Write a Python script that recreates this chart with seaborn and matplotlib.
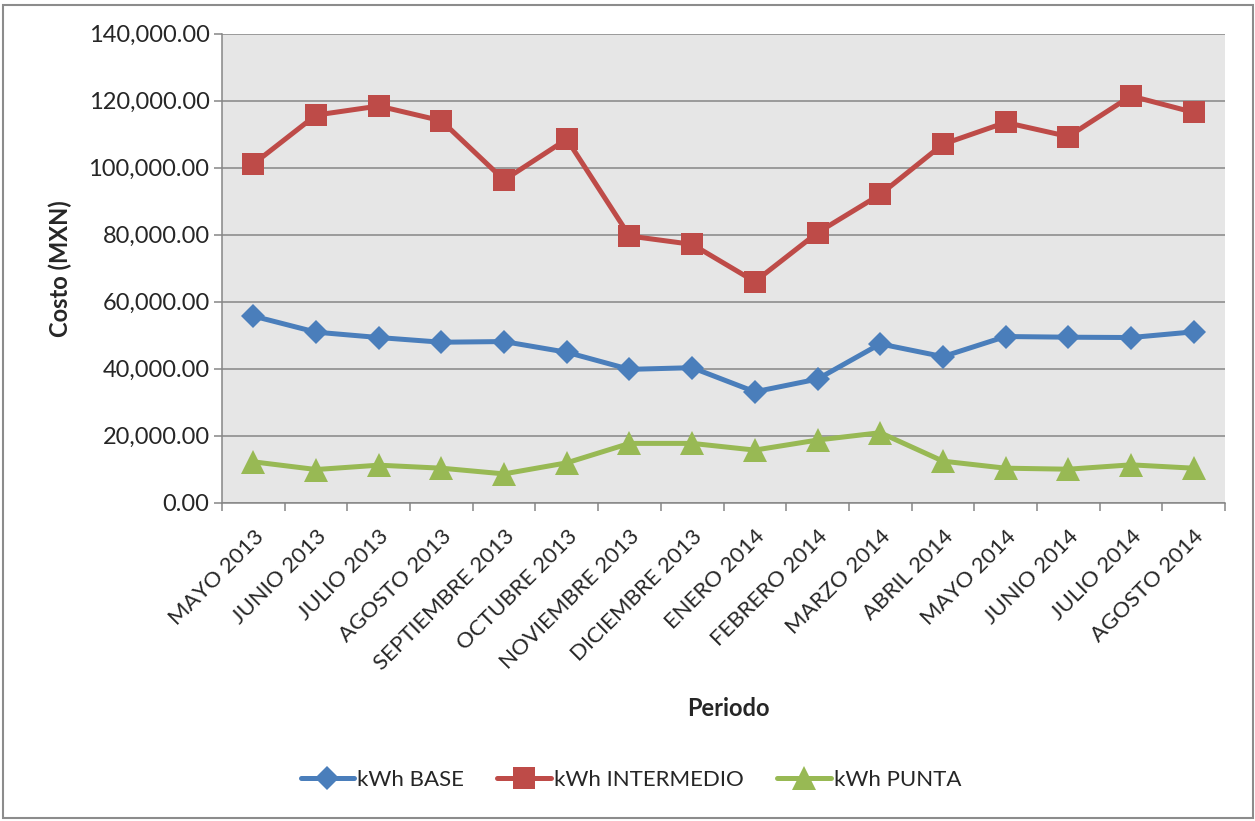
import matplotlib.pyplot as plt
from matplotlib.patches import Rectangle
from matplotlib.ticker import FuncFormatter, FixedLocator
import pandas as pd
import seaborn as sns

# Datos (costo en MXN por periodo)
periodos = [
    "MAYO 2013", "JUNIO 2013", "JULIO 2013", "AGOSTO 2013", "SEPTIEMBRE 2013",
    "OCTUBRE 2013", "NOVIEMBRE 2013", "DICIEMBRE 2013", "ENERO 2014",
    "FEBRERO 2014", "MARZO 2014", "ABRIL 2014", "MAYO 2014", "JUNIO 2014",
    "JULIO 2014", "AGOSTO 2014",
]
kwh_base = [55700, 50900, 49300, 47900, 48100, 44900, 39800, 40300,
            33100, 36900, 47400, 43600, 49600, 49400, 49300, 51000]
kwh_intermedio = [101100, 115700, 118400, 114000, 96300, 108500, 79600, 77100,
                  66000, 80600, 92000, 107000, 113500, 109300, 121400, 116500]
kwh_punta = [12200, 9900, 11200, 10300, 8600, 11900, 17700, 17700,
             15700, 18700, 20900, 12400, 10300, 10000, 11300, 10300]

series = ["kWh BASE", "kWh INTERMEDIO", "kWh PUNTA"]
colores = {"kWh BASE": "#4A7EBB", "kWh INTERMEDIO": "#BE4B48", "kWh PUNTA": "#98B954"}
marcadores = {"kWh BASE": ("D", 12.5), "kWh INTERMEDIO": ("s", 16), "kWh PUNTA": ("^", 17)}

df = pd.DataFrame({
    "Periodo": periodos * 3,
    "Costo": kwh_base + kwh_intermedio + kwh_punta,
    "Serie": [s for s in series for _ in periodos],
})
df["x"] = df["Periodo"].map({p: i for i, p in enumerate(periodos)})

sns.set_style("white")
plt.rcParams["font.family"] = ["Lato", "DejaVu Sans"]

fig = plt.figure(figsize=(12.55, 8.21), dpi=100)
ax = fig.add_axes([0.1769, 0.3877, 0.9761 - 0.1769, 0.959 - 0.3877])
ax.set_facecolor("#E6E6E6")

for s in series:
    m, ms = marcadores[s]
    sns.lineplot(data=df[df["Serie"] == s], x="x", y="Costo", ax=ax,
                 color=colores[s], linewidth=3.6, marker=m, markersize=ms,
                 markeredgewidth=0, label=s, sort=False)

ax.set_xlim(-0.5, len(periodos) - 0.5)
ax.set_ylim(0, 140000)
ax.set_yticks(range(0, 140001, 20000))
ax.yaxis.set_major_formatter(FuncFormatter(lambda v, p: f"{v:,.2f}"))
ax.grid(axis="y", color="#868686", linewidth=1.1)
ax.set_axisbelow(True)

ax.set_xticks(range(len(periodos)))
ax.set_xticklabels(periodos, rotation=45, ha="right", rotation_mode="anchor",
                   fontsize=16)
ax.xaxis.set_minor_locator(FixedLocator([i - 0.5 for i in range(len(periodos) + 1)]))
ax.tick_params(axis="x", which="major", length=0, pad=17)
ax.tick_params(axis="x", which="minor", length=6, width=1.1, color="#868686",
               direction="out", bottom=True)
ax.tick_params(axis="y", length=6, width=1.1, color="#868686", direction="out",
               left=True, labelsize=17, pad=3)

for side in ["top", "right"]:
    ax.spines[side].set_visible(False)
for side in ["left", "bottom"]:
    ax.spines[side].set_color("#868686")
    ax.spines[side].set_linewidth(1.1)

ax.set_ylabel("Costo (MXN)", fontsize=17, fontweight="bold", labelpad=12)
ax.set_xlabel("")
fig.text(0.5805, 1 - 708 / 821, "Periodo", fontsize=17, fontweight="bold",
         ha="center", va="center")

handles, labels = ax.get_legend_handles_labels()
ax.legend(handles, labels, loc="center", bbox_to_anchor=(631 / 1255, 1 - 780 / 821),
          bbox_transform=fig.transFigure, ncol=3, frameon=False, fontsize=16,
          handlelength=2.4, handletextpad=0.15, columnspacing=1.5)

fig.patches.append(Rectangle((3 / 1255, 3 / 821), 1250 / 1255, 813 / 821,
                             transform=fig.transFigure, fill=False,
                             edgecolor="#8C8C8C", linewidth=1.5))

fig.savefig("out.png", dpi=100)
